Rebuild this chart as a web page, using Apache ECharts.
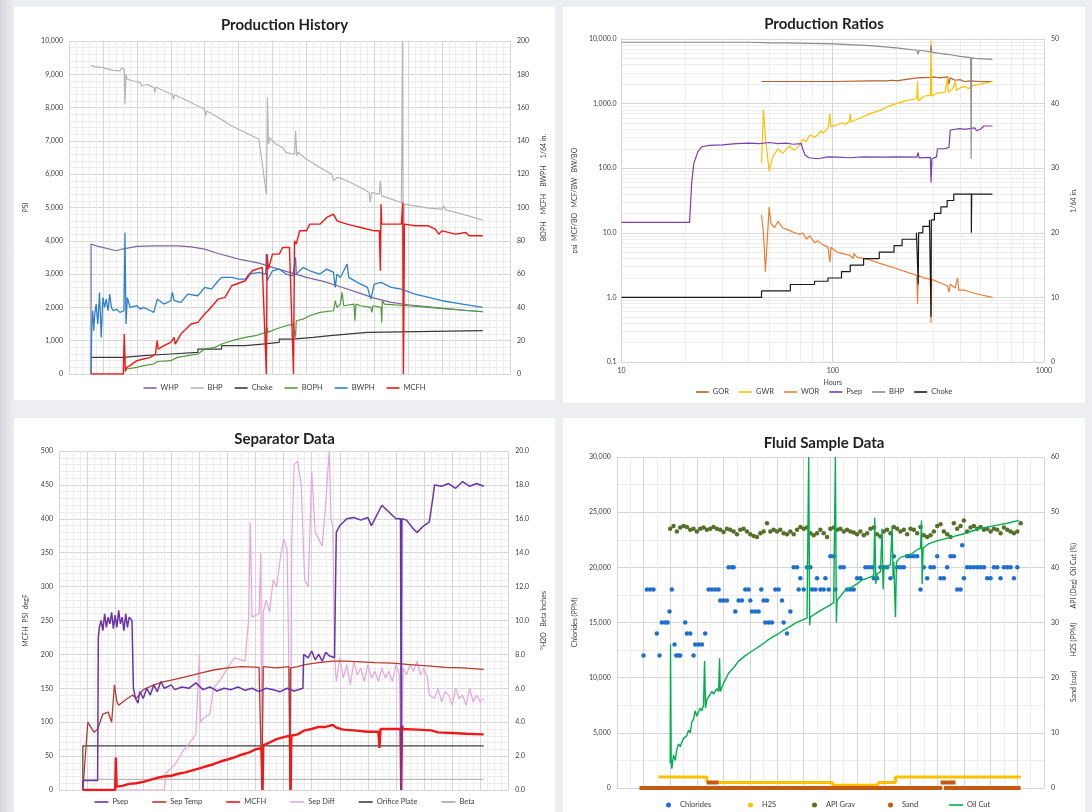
<!DOCTYPE html>
<html><head><meta charset="utf-8">
<script src="https://cdn.jsdelivr.net/npm/echarts@6/dist/echarts.min.js"></script>
<style>
html,body{margin:0;padding:0;width:1092px;height:812px;overflow:hidden;}
body{background:linear-gradient(90deg,#d6d8db 0px,#eceef1 14px,#eceef1 100%);}
.p{position:absolute;background:#fff;}
</style></head><body>
<div id="p1" class="p" style="left:14px;top:7px;width:541px;height:393px"></div>
<div id="p2" class="p" style="left:563px;top:7px;width:522px;height:396px"></div>
<div id="p3" class="p" style="left:14px;top:418px;width:541px;height:394px"></div>
<div id="p4" class="p" style="left:563px;top:418px;width:522px;height:394px"></div>
<script>
// ---------------- Production History (x: elapsed units, left PSI, right rates) ----------------
const phWHP = [[6.5,0],[6.5,3900],[8,3850],[14,3700],[16,3760],[16.5,3800],[20,3830],[25,3850],[32,3850],[36,3820],[40,3750],[44,3620],[50,3450],[56,3330],[60,3200],[65,3050],[70,2900],[75,2780],[80,2620],[85,2450],[90,2280],[95,2150],[100,2080],[106,2020],[112,1960],[118,1900],[122,1870]];
const phBHP = [[6.5,9270],[7.5,9230],[8,9250],[10,9200],[13,9120],[15,9100],[15.7,9200],[16.3,9150],[16.5,8100],[16.8,9000],[17.2,8850],[19,8800],[21,8750],[21.5,8650],[23,8700],[25,8600],[25.3,8450],[25.6,8620],[28,8500],[30.5,8400],[30.8,8250],[31.2,8380],[34,8250],[38,8050],[40,7950],[40.3,7750],[40.6,7900],[44,7700],[48,7450],[52,7250],[56,7050],[58.2,5400],[58.5,8300],[58.8,6900],[59.2,7100],[61,6900],[63,6800],[64,6650],[66.5,6600],[66.8,7300],[67.2,6550],[67.6,6650],[70,6450],[74,6200],[77.5,6000],[78,5800],[79,5900],[81,5850],[84,5700],[87,5550],[88.5,5450],[88.8,5150],[89.2,5450],[91.5,5400],[91.8,5800],[92.2,5350],[95,5250],[98,5150],[98.4,10000],[98.6,0],[98.8,5100],[102,5050],[106,4980],[110,4950],[110.5,5050],[111,4930],[116,4800],[122,4620]];
const phChoke = [[6.5,10],[16,11],[22,12],[30,13],[38,15],[45,17],[52,18],[57,19],[62,21],[66,22],[72,23],[77,24],[82,25],[88,26],[122,26]];
const phBOPH = [[16.5,1],[17,3],[20,4],[22,5],[25,6],[26,7.5],[30,8],[32,10],[35,11],[38,12],[40,15],[43,16],[45,18],[48,20],[52,22],[55,23],[58,25],[58.2,18],[58.4,28],[58.7,25],[61,27],[64,29],[66,30],[66.8,22],[67,32],[69,33],[71,35],[74,37],[78,38],[78.5,44],[79,40],[80,42],[80.5,49],[81,41],[84,42],[84.3,32],[84.6,42],[86,41],[89,40],[89.3,37],[89.6,41],[92,40],[92.2,31],[92.4,44],[93,42],[96,41.5],[100,41],[106,40],[112,39],[118,38],[122,37.5]];
const phBWPH = [[6.5,0],[6.7,28],[7,38],[7.3,26],[7.6,36],[8,42],[8.5,30],[9,49],[9.5,22],[10,46],[10.5,40],[11,45],[11.5,38],[12,48],[12.5,40],[13,38],[14,39],[15,37],[16.2,38],[16.5,85],[16.8,30],[17.2,46],[18,40],[20,41],[21,39],[22,40],[24,38],[25,37],[26,45],[26.5,44],[28,42],[30,44],[30.5,49],[31,44],[33,43],[35,48],[38,47],[40,52],[42,51],[44,56],[45,58],[48,58],[50,57],[52,57],[53,60],[56,61],[58,60],[58.2,72],[58.4,56],[60,62],[62,63],[64,60],[66,59],[66.8,70],[67,60],[69,64],[71,62],[74,60],[76,63],[78,61],[78.5,52],[79,60],[80,58],[81,62],[82,66],[82.5,58],[85,55],[88,52],[89,45],[90,54],[92,55],[95,52],[98,51],[102,48],[106,46],[110,44],[116,42],[122,40]];
const phMCFH = [[6.5,0],[16,0],[16.3,24],[16.6,2],[17,4],[18,5],[20,8],[22,9],[24,10],[25.5,12],[26,20],[26.3,15],[28,17],[30,19],[31,22],[31.3,18],[33,24],[36,30],[38,31],[40,36],[41,38],[44,45],[46,46],[48,53],[52,56],[54,62],[57,64],[58.2,0],[58.4,72],[58.8,63],[60,72],[62,72],[63,76],[65,76],[66.2,0],[66.5,80],[67,78],[68,86],[70,86],[71,90],[74,90],[76,94],[78,96],[79,92],[82,90],[84,89],[86,88],[90,86],[91.5,86],[91.8,62],[92,102],[92.2,90],[94,90],[98,90],[98.4,103],[98.6,0],[98.9,90],[102,89],[106,89],[108,87],[109,84],[110,86],[114,84],[117,85],[118,83],[122,83]];

// ---------------- Production Ratios (x: hours, log) ----------------
const prGOR = [[46,2200],[60,2200],[100,2200],[150,2250],[180,2250],[190,2300],[200,2250],[250,2500],[290,2550],[300,2600],[320,2500],[350,2600],[355,2000],[360,2500],[380,2300],[400,2350],[420,2200],[450,2250],[500,2200],[570,2200]];
const prGWR = [[46,120],[47,800],[48,300],[50,90],[52,150],[55,200],[58,170],[62,220],[66,190],[70,230],[72,280],[75,260],[78,330],[82,300],[85,330],[88,380],[90,350],[95,420],[97,700],[98,440],[105,470],[110,500],[115,480],[120,530],[121,700],[122,520],[135,600],[150,700],[170,800],[180,880],[200,1000],[220,1100],[250,1200],[252,2200],[254,1100],[270,1300],[290,1350],[292,9500],[294,1300],[310,1450],[340,1500],[350,2500],[352,1500],[370,1700],[380,2200],[385,1600],[400,1750],[420,1850],[440,1700],[460,1900],[500,2000],[570,2200]];
const prWOR = [[46,19],[47,10],[48,2.5],[49,8],[50,25],[51,14],[53,12],[55,15],[58,12],[62,11],[66,10],[70,9.5],[72,10],[75,8],[78,9],[82,7],[85,7.5],[90,6.5],[95,6],[97,3.5],[98,6],[105,5],[110,4.8],[120,4.5],[125,4.0],[126,4.8],[130,4.2],[150,3.8],[170,3.3],[200,2.8],[230,2.4],[250,2.2],[252,0.8],[254,2.2],[270,2.0],[290,1.9],[292,0.4],[294,1.9],[320,1.7],[350,1.5],[355,1.2],[360,1.6],[380,1.4],[390,2.0],[395,1.3],[420,1.3],[450,1.2],[500,1.1],[570,1.0]];
const prPsep = [[10,14.5],[21,14.5],[21.5,60],[22,120],[23,180],[24,215],[26,225],[30,230],[35,240],[40,245],[45,240],[50,250],[55,240],[60,245],[65,235],[71,240],[72,200],[74,160],[77,145],[85,140],[95,150],[105,148],[120,145],[140,150],[170,148],[200,150],[250,148],[254,175],[256,145],[290,147],[292,60],[295,140],[310,150],[313,200],[340,200],[355,210],[360,390],[400,410],[420,400],[470,420],[480,380],[500,400],[520,450],[570,450]];
const prBHP = [[10,8900],[20,8900],[40,8900],[48,8800],[49,8200],[50,8700],[60,8700],[100,8400],[150,7900],[200,7300],[250,6700],[254,5800],[256,6700],[290,6300],[292,8000],[295,6200],[350,5800],[400,5400],[450,5150],[452,140],[454,5100],[470,5000],[570,4850]];
const prChoke = [[10,10],[46,11],[63,12],[82,12.5],[95,13],[110,14],[121,15],[140,16],[166,17],[195,18],[213,19],[249,20],[254,12],[255,20],[267,21],[287,22],[292,7],[293,22],[303,23],[325,24],[348,25],[374,26],[453,20],[455,26],[570,26]];
const prXTicks = ['10','100','1000'];

// ---------------- Separator Data ----------------
const sdPsep = [[6.8,0],[6.8,14],[11,14],[11.2,225],[11.5,240],[12,250],[12.5,235],[13,260],[13.5,240],[14,255],[14.5,245],[15,262],[15.5,238],[16,258],[16.5,240],[17,265],[17.5,245],[18,255],[18.5,235],[19,260],[19.5,240],[20,255],[20.8,250],[21.2,150],[21.8,135],[22.5,128],[23,145],[24,135],[25,150],[26,140],[27,155],[28,145],[29,160],[30,150],[32,155],[33,148],[35,152],[37,150],[39,158],[41,148],[43,152],[45,146],[47,150],[49,148],[51,152],[53,147],[55,150],[57,145],[59,150],[61,148],[63,145],[65,150],[67,146],[69.5,150],[69.7,200],[71,195],[72,205],[73,192],[74,200],[75,190],[76,203],[77,198],[78.5,195],[79,380],[80,390],[82,400],[84,402],[86,398],[88,402],[89,390],[90,400],[92,420],[94,410],[96,400],[97.3,400],[97.5,0],[97.7,400],[99,398],[101,385],[102,380],[104,390],[105.5,395],[106.5,430],[107,450],[109,448],[111,452],[113,445],[115,455],[117,448],[119,452],[121,448]];
const sdSepTemp = [[6.8,0],[8.2,100],[10,85],[11,90],[12.5,112],[14,115],[15,100],[15.8,155],[16.5,130],[17,125],[19,133],[21,140],[22,135],[24,148],[27,155],[30,160],[33,163],[36,167],[40,172],[44,177],[48,180],[52,182],[57,181],[57.8,0],[58.2,182],[62,180],[65.5,182],[65.8,0],[66,180],[68,182],[70,185],[74,188],[78,190],[82,190],[86,189],[90,188],[95,187],[100,185],[105,183],[110,181],[115,180],[121,178]];
const sdMCFH = [[6.8,0],[16,0],[16.2,48],[16.4,5],[18,6],[20,9],[22,10],[24,12],[26,15],[28,18],[30,20],[32,21],[34,24],[36,26],[38,29],[40,32],[42,35],[44,38],[46,42],[48,45],[50,48],[52,52],[54,55],[56,60],[57.8,62],[58,0],[58.2,66],[60,70],[62,75],[64,78],[65.8,80],[66,0],[66.2,80],[68,82],[70,88],[72,90],[74,93],[76,93],[78,96],[79,92],[81,89],[84,88],[88,86],[91,86],[91.3,62],[91.6,90],[94,90],[97.3,90],[97.5,0],[97.7,95],[98,90],[102,89],[106,88],[108,85],[112,84],[116,83],[121,82]];
const sdSepDiff = [[6.8,0],[30,0],[30.5,1.0],[33,1.5],[35,2.2],[36.5,2.6],[38,3.0],[39,3.3],[40,8.0],[40.3,4.0],[41,4.2],[43,4.5],[44,6.0],[46,6.5],[48,7.2],[50,7.8],[53,7.6],[54,10.0],[54.5,15.8],[55,10.2],[57,10.4],[57.5,14],[57.8,0],[58.2,10.5],[59,11.2],[60,10.5],[61,12.4],[62,12.0],[63,13.6],[64,14.8],[65,14.2],[66,0],[66.3,14.5],[67,19.2],[68,19.4],[69,18.0],[70,12.4],[71,12.0],[72,18.8],[73,15.2],[74,14.8],[75,14.4],[76,17],[77,20],[77.5,16],[78,15.6],[78.5,8],[79,6.4],[80,7.8],[81,6.6],[82,7.4],[83,6.2],[84,7.6],[85,6.8],[86,7.2],[87,6.4],[88,7.4],[89,6.6],[90,7.0],[91,6.4],[92,7.2],[93,6.6],[94,7.0],[95,6.4],[96,7.4],[97,6.8],[97.5,0],[98,7.2],[99,6.8],[100,7.4],[101,7.0],[102,7.6],[103,6.8],[104,7.2],[105,6.6],[105.5,5.6],[107,5.4],[108,6.0],[109,5.2],[110,5.8],[111,5.6],[112,5.0],[113,6.0],[114,5.4],[115,5.6],[116,5.0],[117,6.0],[118,5.2],[119,5.6],[120,5.2],[121,5.4]];
const sdOrifice = [[6.8,0],[6.8,65],[121,65]];
const sdBeta = [[6.8,0],[6.8,0.63],[121,0.63]];

// ---------------- Fluid Sample Data ----------------
const fsChlorides = [[8,12000],[9,18000],[10,18000],[11,18000],[12,14000],[12.8,12000],[13.5,15000],[14.5,15000],[15.2,15000],[15.8,16000],[16.5,18000],[17.3,13000],[17.8,12000],[18.5,12000],[19,12000],[20.5,15000],[21,14000],[22,14000],[23,12000],[23.5,13000],[24.5,13000],[25.5,13000],[26.5,14000],[27.5,18000],[28.5,18000],[29.5,18000],[30.5,18000],[31,17000],[32,17000],[33,17000],[33.5,20000],[34.5,20000],[35,20000],[35.5,16000],[36.5,17000],[37.5,17000],[38.5,18000],[39.5,18000],[40,17000],[40.5,16000],[41.5,16000],[42.5,16000],[43.3,18000],[44,17000],[45,17000],[44.5,15000],[45.5,15000],[46.5,15000],[47.5,18000],[48.5,18000],[49.5,17000],[50,15000],[51,14000],[52,16000],[53,20000],[54,20000],[54.5,18000],[55,19000],[56,18000],[57,20000],[58,20000],[58.5,18000],[59.5,18000],[60,19000],[61,18000],[62,18000],[62.5,19000],[63.5,18000],[64,21000],[65,21000],[65.5,18000],[67,20000],[68,20000],[69,18000],[70,18000],[71,18000],[72,19000],[73,19000],[74.5,20000],[75.5,20000],[76.5,20000],[77,19000],[78,19000],[79,20000],[80,20000],[81,20000],[82,19000],[83,21000],[84,20000],[85,20000],[86,20000],[87,21000],[88,21000],[89,21000],[90,21000],[91,18000],[92,20000],[93,19000],[94,20000],[95,20000],[96,21000],[97,19000],[98,19000],[99,20000],[100,21000],[101,21000],[102,18000],[103,18000],[103.5,22000],[104,19000],[105,20000],[106,20000],[107,20000],[108,20000],[109,20000],[110,20000],[111,19000],[112,19000],[113,20000],[114,20000],[115,19000],[116,20000],[117,20000],[118,20000],[119,19000],[120,20000]];
const fsH2S = [[12.5,2],[27,2],[27,1],[64.5,1],[65,0.5],[78,0.5],[78.5,1],[83.5,1],[83.5,2],[121,2]];
const fsAPI = [[16,47],[17,47.5],[18,46.5],[19,47.2],[20,47.5],[21,47.3],[22,46.8],[23,47],[24,46.5],[25,47],[26,47.2],[27,46.8],[28,47],[29,47.3],[30,47],[31,46.8],[32,46.4],[33,47],[34,46.8],[35,46.5],[36,46],[37,46.8],[38,47],[39,46.5],[40,46],[41,45.7],[42,45.5],[43,46.2],[44,46.5],[45,48],[46,46.5],[47,46.8],[48,46.5],[49,46.8],[50,46.2],[51,46],[52,46.5],[53,46],[54,46.8],[55,47.3],[56,47],[57,47.2],[58,46.2],[59,45.8],[60,46.2],[61,46.8],[62,46.2],[63,45.5],[64,47],[65,47.2],[66,46.8],[67,47],[68,46.5],[69,46.8],[70,46.5],[71,46.3],[72,46],[73,46.5],[74,45.8],[75,46.2],[76,47],[77,47.2],[78,46],[79,45.6],[80,46.5],[81,46.8],[82,46.2],[83,47.3],[84,47],[85,46.5],[86,46.8],[87,46],[88,47],[89,46.8],[90,46.2],[91,47.3],[92,45.8],[93,45.5],[94,45.8],[95,46.5],[96,47.5],[97,47.8],[98,46.5],[99,46],[100,45.5],[101,48],[102,47],[103,47.5],[104,48.5],[105,46.5],[106,47.2],[107,47.5],[108,47],[109,47.3],[110,46.8],[111,47],[112,46.5],[113,47],[114,46.8],[115,46.2],[116,47.2],[117,46.8],[118,46.5],[119,46.2],[120,46.5],[121,48]];
const fsSand = [[6.8,0],[97.5,0],[97.7,'-'],[98,0],[121,0],[121.1,'-'],[27,1],[30.5,1],[30.6,'-'],[97,1],[101.5,1]];
const fsOilCut = [[16,4.5],[16.1,26],[16.3,5],[16.5,3.5],[17,6],[17.5,5],[18,7],[18.5,8],[19,7.5],[20,9],[21,9.5],[21.5,10.5],[22,10],[22.5,12],[23,12.5],[23.5,14],[24,13],[25,14.5],[25.5,14],[26,15],[26.3,23],[26.6,14.5],[27,16],[28,17],[28.5,17.5],[29,17],[30,18],[30.5,17.5],[30.8,23.5],[31,17.5],[32,19],[33.5,20.8],[35,21.8],[36.5,23],[38.5,24],[40,24.6],[41.5,25.2],[43.5,26],[45,26.7],[47,27.5],[48.5,28],[50,28.6],[52,29.3],[53.5,29.9],[55,30.3],[57,30.8],[57.5,60],[57.8,29.5],[58,31],[60,31.8],[62,32.5],[63.5,33],[65,33.6],[65.5,60],[65.8,30],[66,34],[68.5,35.9],[70,36.3],[72,37],[73.5,37.7],[75,38],[77,38.5],[77.3,49],[77.6,37],[78,38.8],[79,39.2],[79.5,47],[79.8,36],[80,39.6],[82,40.5],[82.5,47.5],[82.8,38],[83,41],[83.5,31],[83.8,41],[85,41.8],[87,42.2],[88.5,42.5],[90,43.2],[91,43.5],[91.3,48.5],[91.5,37],[91.8,43.5],[93.5,44.3],[96,44.8],[98.5,45.2],[101,45.6],[103.5,46],[106,46.5],[108.5,47],[111,47.3],[113.5,47.6],[117,48],[120.5,48.5]];

// ---------------- helpers ----------------
const FONT = 'Lato, "Open Sans", sans-serif';
const LBL = {fontSize:7, color:'#404040', fontFamily:FONT};
const GRIDC = '#d6d6d6', MINC = '#ededed';
function title(t, top){ return {text:t,left:'center',top:top,textStyle:{fontSize:15,fontWeight:'bold',color:'#1f1f1f',fontFamily:FONT}}; }
function xVal(min,max,interval,minor){
  return {type:'value',min:min,max:max,interval:interval,axisLabel:{show:false},axisTick:{show:false},
    axisLine:{show:true,lineStyle:{color:GRIDC}},splitLine:{show:true,lineStyle:{color:GRIDC,width:1}},
    minorTick:{show:false,splitNumber:minor},minorSplitLine:{show:true,lineStyle:{color:MINC,width:1}}};
}
function yLeft(min,max,interval,minor,name,gap,fmt){
  return {type:'value',position:'left',min:min,max:max,interval:interval,name:name,nameLocation:'middle',nameGap:gap,nameRotate:90,
    nameTextStyle:{fontSize:7,color:'#404040',fontFamily:FONT},
    axisLabel:Object.assign({formatter:fmt,margin:6},LBL),axisTick:{show:false},axisLine:{show:false},
    splitLine:{show:true,lineStyle:{color:GRIDC}},minorTick:{show:false,splitNumber:minor},minorSplitLine:{show:minor>0,lineStyle:{color:MINC}}};
}
function yRight(min,max,interval,name,gap,fmt,namePad){
  return {type:'value',position:'right',min:min,max:max,interval:interval,name:name,nameLocation:'middle',nameGap:gap,nameRotate:90,
    nameTextStyle:{fontSize:7,color:'#404040',fontFamily:FONT,padding:namePad||0},
    axisLabel:Object.assign({formatter:fmt,margin:7},LBL),axisTick:{show:false},axisLine:{show:false},splitLine:{show:false}};
}
function ln(name,data,color,width,yIdx,extra){
  return Object.assign({type:'line',name:name,data:data,yAxisIndex:yIdx,symbol:'none',animation:false,
    lineStyle:{color:color,width:width},itemStyle:{color:color}},extra||{});
}
function legendLines(names,top,gap,w){
  return {top:top,left:'center',padding:0,icon:'rect',itemWidth:w,itemHeight:1.6,itemGap:gap,data:names,
    textStyle:{fontSize:7.5,color:'#404040',fontFamily:FONT,padding:[0,0,0,-1]}};
}
function legendDot(name,left){
  return {top:383,left:left,padding:0,icon:'circle',itemWidth:5,itemHeight:5,data:[name],
    textStyle:{fontSize:7.5,color:'#404040',fontFamily:FONT,padding:[0,0,0,4]}};
}
const comma = v => v.toLocaleString('en-US');
const one = v => v.toLocaleString('en-US',{minimumFractionDigits:1,maximumFractionDigits:1});

// ---------------- Chart 1 ----------------
echarts.init(document.getElementById('p1')).setOption({
  animation:false,
  title:title('Production History',6),
  grid:{left:50,right:27,top:34,bottom:26},
  legend:legendLines(['WHP','BHP','Choke','BOPH','BWPH','MCFH'],377,12,13),
  xAxis:xVal(0,130,10,5),
  yAxis:[yLeft(0,10000,1000,5,'PSI',40,comma),
         yRight(0,200,20,'BOPH    MCFH    BWPH    1/64 in.',20,v=>String(v),[0,0,0,40])],
  series:[
    ln('WHP',phWHP,'#8064a2',1.2,0),
    ln('BHP',phBHP,'#b4b4b4',1.2,0),
    ln('Choke',phChoke,'#3a3a3a',1.2,1,{step:'end'}),
    ln('BOPH',phBOPH,'#4f9a3c',1.2,1),
    ln('BWPH',phBWPH,'#2f82c8',1.3,1),
    ln('MCFH',phMCFH,'#f01818',1.4,1)
  ]
});

// ---------------- Chart 2 ----------------
echarts.init(document.getElementById('p2')).setOption({
  animation:false,
  title:title('Production Ratios',5),
  grid:{left:44,right:35,top:32,bottom:41},
  legend:legendLines(['GOR','GWR','WOR','Psep','BHP','Choke'],381,10,13),
  xAxis:{type:'log',logBase:10,min:10,max:1000,name:'Hours',nameLocation:'middle',nameGap:11,
    nameTextStyle:{fontSize:7,color:'#404040',fontFamily:FONT},
    axisLabel:Object.assign({margin:5,formatter:v=>prXTicks[Math.round(Math.log10(v))-1]},LBL),axisTick:{show:false},axisLine:{show:true,lineStyle:{color:GRIDC}},
    splitLine:{show:true,lineStyle:{color:GRIDC}},minorTick:{show:false,splitNumber:9},minorSplitLine:{show:true,lineStyle:{color:MINC}}},
  yAxis:[{type:'log',logBase:10,min:0.1,max:10000,position:'left',name:'psi  MCF/BO   MCF/BW   BW/BO',nameLocation:'middle',nameGap:36,nameRotate:90,
      nameTextStyle:{fontSize:7,color:'#404040',fontFamily:FONT},
      axisLabel:Object.assign({formatter:one,margin:5},LBL),axisTick:{show:false},axisLine:{show:true,lineStyle:{color:GRIDC}},
      splitLine:{show:true,lineStyle:{color:GRIDC}},minorTick:{show:false,splitNumber:9},minorSplitLine:{show:true,lineStyle:{color:MINC}}},
    yRight(0,50,10,'1/64 in.',22,v=>String(v))],
  series:[
    ln('GOR',prGOR,'#b5602e',1.2,0),
    ln('GWR',prGWR,'#ffc000',1.2,0),
    ln('WOR',prWOR,'#ed7d31',1.2,0),
    ln('Psep',prPsep,'#7a3fb0',1.2,0),
    ln('BHP',prBHP,'#8c8c8c',1.2,0),
    ln('Choke',prChoke,'#1a1a1a',1.2,1,{step:'end'})
  ]
});

// ---------------- Chart 3 ----------------
echarts.init(document.getElementById('p3')).setOption({
  animation:false,
  title:title('Separator Data',9),
  grid:{left:45,right:41,top:33,bottom:22},
  legend:legendLines(['Psep','Sep Temp','MCFH','Sep Diff','Orifice Plate','Beta'],380,24,14),
  xAxis:xVal(0,128,8,4),
  yAxis:[yLeft(0,500,50,5,'MCFH  PSI  degF',30,v=>String(v)),
         yRight(0,20,2,'°H2O   Beta Inches',22,one)],
  series:[
    ln('Orifice Plate',sdOrifice,'#404040',1.2,0),
    ln('Beta',sdBeta,'#a8a8a8',1,1),
    ln('Sep Diff',sdSepDiff,'#e6a5dc',1.2,1),
    ln('Sep Temp',sdSepTemp,'#b83a2e',1.3,0),
    ln('MCFH',sdMCFH,'#f01818',2.4,0),
    ln('Psep',sdPsep,'#6a33a8',1.5,0)
  ]
});

// ---------------- Chart 4 ----------------
echarts.init(document.getElementById('p4')).setOption({
  animation:false,
  title:title('Fluid Sample Data',13),
  grid:{left:53,right:37,top:39,bottom:24},
  legend:[
    legendDot('Chlorides',103), legendDot('H2S',185), legendDot('API Grav',249), legendDot('Sand',325),
    {top:383,left:386,padding:0,icon:'rect',itemWidth:14,itemHeight:1.6,data:['Oil Cut'],
      textStyle:{fontSize:7.5,color:'#404040',fontFamily:FONT,padding:[0,0,0,-1]}}
  ],
  xAxis:xVal(0,128,8,2),
  yAxis:[yLeft(0,30000,5000,2,'Chlorides (PPM)',34,comma),
         yRight(0,60,10,'Sand (cup)        H2S (PPM)        API (Deg)  Oil Cut (%)',22,v=>String(v))],
  series:[
    {type:'scatter',name:'Chlorides',data:fsChlorides,yAxisIndex:0,symbolSize:4.5,itemStyle:{color:'#1f6fd1',opacity:1},animation:false},
    ln('H2S',fsH2S,'#ffc000',3,1),
    {type:'scatter',name:'API Grav',data:fsAPI,yAxisIndex:1,symbolSize:4.5,itemStyle:{color:'#56702a',opacity:1},animation:false},
    ln('Sand',fsSand,'#c55a11',4,1,{connectNulls:false}),
    ln('Oil Cut',fsOilCut,'#00b050',1.4,1)
  ]
});
</script>
</body></html>
